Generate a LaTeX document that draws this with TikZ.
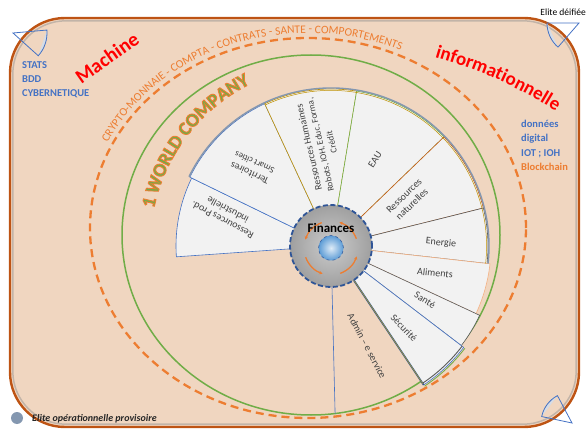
\documentclass[tikz,border=0pt]{standalone}
\usepackage{fontspec}
\setmainfont{Carlito}
\usetikzlibrary{decorations.text, calc, arrows.meta}

\definecolor{peach}{RGB}{240,214,192}
\definecolor{frameorange}{RGB}{190,84,20}
\definecolor{accorange}{RGB}{237,125,49}
\definecolor{accgreen}{RGB}{112,173,71}
\definecolor{accblue}{RGB}{68,114,196}
\definecolor{slate}{RGB}{132,151,176}
\definecolor{goldline}{RGB}{191,144,0}
\definecolor{brownline}{RGB}{197,90,17}
\definecolor{darkline}{RGB}{89,89,89}
\definecolor{lightorange}{RGB}{244,177,131}
\definecolor{navyline}{RGB}{47,85,151}
\definecolor{oliveline}{RGB}{160,150,60}
\definecolor{sectorfill}{RGB}{242,242,242}
\definecolor{labelgray}{RGB}{64,64,64}
\definecolor{piefill}{RGB}{214,220,229}
\definecolor{legenddot}{RGB}{132,151,176}
\definecolor{coreblue}{RGB}{91,155,213}
\definecolor{corelight}{RGB}{222,235,247}

% green letters with an orange rim (text render mode 2)
\newcommand{\wcfont}{\color{accgreen}\special{pdf:literal direct 2 Tr 0.9 w 0.929 0.490 0.192 RG}\fontsize{19}{19}\selectfont\bfseries}

\begin{document}
\begin{tikzpicture}[x=1pt, y=1pt,
        sector/.style={fill=sectorfill, line width=0.6pt},
        seclabel/.style={text=labelgray, font=\fontsize{10}{11.5}\selectfont, align=center, inner sep=0pt},
        sidelist/.style={font=\fontsize{10.5}{14.3}\selectfont\bfseries, align=left, anchor=north west, inner sep=0pt},
        bigred/.style={text=red, font=\fontsize{20}{20}\selectfont\bfseries, inner sep=0pt},
        eyepie/.style={draw=accblue, line width=0.8pt}
    ]
    \useasboundingbox (0,0) rectangle (587,429);
    \coordinate (fc) at (331,183);
    \coordinate (ic) at (331,181);
    \coordinate (oc) at (308,201);
    \coordinate (gc) at (311,194);

    % frame
    \draw[fill=peach, draw=frameorange, line width=2.4pt, rounded corners=55pt] (10,2) rectangle (579,411);
    \draw[black!45, opacity=0.45, line width=1.5pt, rounded corners=53pt] (12.8,4.8) rectangle (576.2,408.2);

    % outer rings
    \draw[accorange, line width=2.3pt, dash pattern=on 8pt off 5pt] (oc) ellipse[x radius=218, y radius=190];
    \draw[accgreen, line width=1.5pt] (gc) ellipse[x radius=189, y radius=180];

    \path[decorate, decoration={text along path, text color=accorange,
        text={|\fontsize{11.5}{12}\selectfont|CRYPTO-MONNAIE - COMPTA - CONTRATS - SANTE - COMPORTEMENTS}}]
        ($(oc)+(154:223 and 195)$) arc[start angle=154, end angle=55, x radius=223, y radius=195];

    \begin{scope}
        \path[decorate, decoration={text along path, text={|\wcfont|1 WORLD COMPANY}}]
            ($(fc)+(168:181)$) arc[start angle=168, end angle=108, radius=181];
    \end{scope}

    \node[bigred, rotate=35] (machine) at (107,371) {Machine};
    \path[decorate, decoration={text along path, text color=red, text align=center,
        text={|\fontsize{19}{19}\selectfont\bfseries|informationnelle}}]
        (428,374) to[bend left=8] (562,314);

    % fan
    \foreach \a/\b/\r/\c in {184/154/155/accblue, 154/115/157/accblue, 115/80.6/157/goldline,
        80.6/44/157/accgreen, 44/14/157/brownline, 14/-6.4/157/darkline,
        -6.4/-25/160/lightorange, -25/-37.4/164/darkline, -37.4/-56.3/167/accblue}
        \draw[sector, draw=\c] (fc) -- ++(\a:\r) arc[start angle=\a, end angle=\b, radius=\r] -- cycle;
    \draw[slate, line width=1.4pt] ($(fc)+(154:158)$) arc[start angle=154, end angle=-6.4, radius=158];
    \draw[goldline, line width=0.5pt] ($(fc)+(115:155.6)$) arc[start angle=115, end angle=-6.4, radius=155.6];
    \draw[darkline, line width=0.9pt] ($(fc)+(-37.4:165)$) arc[start angle=-37.4, end angle=-56.3, radius=165];
    \draw[accgreen, line width=0.8pt] ($(fc)+(-37.4:168.5)$) arc[start angle=-37.4, end angle=-56.3, radius=168.5];
    \draw[navyline, line width=1.7pt] ($(fc)+(-56.3:41)$) -- ($(fc)+(-56.3:167)$);
    \draw[oliveline, line width=0.7pt, shift={(33.7:1.4)}] ($(fc)+(-56.3:41)$) -- ($(fc)+(-56.3:166)$);
    \draw[accblue, line width=0.6pt] ($(fc)+(-88.6:41)$) -- ($(fc)+(-88.6:168)$);

    % sector labels
    \node[seclabel, rotate=152] (prod) at (225,214) {Ressources Prod.\\industrielle};
    \node[seclabel, rotate=155] (terr) at (252,261) {Territoires\\{\fontsize{9}{10}\selectfont Smart cities}};
    \node[seclabel, rotate=103] (rh) at (320,284)
        {Ressources Humaines\\{\fontsize{9}{10.5}\selectfont Robots, IOH, Educ, Forma,}\\{\fontsize{9}{10.5}\selectfont Crédit}};
    \node[seclabel, rotate=58] (eau) at (375,269) {EAU};
    \node[seclabel, rotate=44] (nat) at (408,229) {Ressources\\naturelles};
    \node[seclabel, rotate=-6] (energy) at (441,186) {Energie};
    \node[seclabel, rotate=-6] (food) at (435,156) {Aliments};
    \node[seclabel, rotate=-32] (health) at (425,129) {Santé};
    \node[seclabel, rotate=-46] (safety) at (404,101) {Sécurité};
    \node[seclabel, rotate=-62] (admin) at (367,83) {Admin – e service};

    % finances core
    \shade[inner color=gray!40, outer color=gray!75] (fc) circle[radius=41];
    \draw[navyline, line width=1.8pt, dash pattern=on 5pt off 2.5pt] (fc) circle[radius=41];
    \shade[inner color=corelight, outer color=coreblue] (ic) circle[radius=12.5];
    \draw[navyline, line width=0.5pt, dashed] (ic) circle[radius=12.5];
    \foreach \a in {20,110,200,290}
        \draw[accorange, line width=1.3pt, -{Stealth[length=3.5pt,width=3.5pt]}]
            ($(ic)+(\a:27)$) arc[start angle=\a, end angle=\a+52, radius=27];
    \node[font=\fontsize{13}{13}\selectfont\bfseries, inner sep=0pt] (fin) at (331,201) {Finances};

    % side texts
    \node[sidelist, text=accblue] (tools) at (22,368) {STATS\\BDD\\CYBERNETIQUE};
    \node[sidelist, text=accblue] (data) at (521,309) {données\\digital\\IOT ; IOH\\\textcolor{accorange}{Blockchain}};
    \node[anchor=east, font=\fontsize{9.5}{9.5}\selectfont, inner sep=0pt] (elite) at (586,417) {Elite déifiée};

    % corner eyes
    \foreach \px/\py/\a/\b/\r in {13/396/-42/5/34, 579/406/180/229/32, 572/6/118/168/31} {
        \fill[piefill] ($(\px,\py)+(\a:\r)$) arc[start angle=\a, end angle=\b, radius=\r] -- cycle;
        \draw[eyepie] (\px,\py) -- ++(\a:\r) arc[start angle=\a, end angle=\b, radius=\r] -- cycle;
    }

    % legend
    \node[circle, fill=legenddot, minimum size=12pt, inner sep=0pt] (dot) at (17,11) {};
    \node[anchor=west, inner sep=0pt, font=\fontsize{10}{10}\selectfont\bfseries\itshape, text=black!85] (ops) at (32,10)
        {Elite opérationnelle provisoire};
\end{tikzpicture}
\end{document}
